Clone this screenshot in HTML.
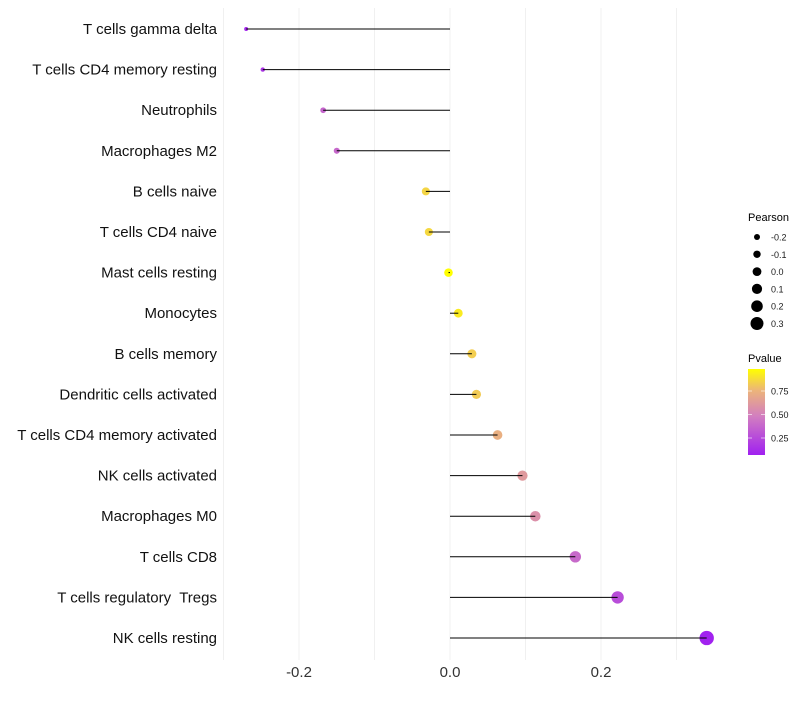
<!DOCTYPE html>
<html><head><meta charset="utf-8"><style>
body{margin:0;background:#fff;font-family:"Liberation Sans",sans-serif}
text{white-space:pre}
</style></head><body>
<svg id="c" width="800" height="700" xmlns="http://www.w3.org/2000/svg" font-family="Liberation Sans, sans-serif">
<defs><linearGradient id="pg" x1="0" y1="1" x2="0" y2="0">
<stop offset="0" stop-color="#a020f0"/><stop offset="0.45" stop-color="#d27ec0"/><stop offset="0.75" stop-color="#ecb47a"/><stop offset="1" stop-color="#ffff00"/>
</linearGradient></defs>
<g id="grid"></g><g id="dots"></g><g id="stems"></g><g id="labels"></g>
<g>
<text x="748" y="221" font-size="11" fill="#000">Pearson</text>
<g id="sizeleg"></g>
</g>
<g>
<text x="748" y="362" font-size="11" fill="#000">Pvalue</text>
<rect x="748" y="369" width="17" height="86" fill="url(#pg)"/>
<g id="cbticks"></g>
</g>
</svg>
<script>
const categories=["T cells gamma delta","T cells CD4 memory resting","Neutrophils","Macrophages M2","B cells naive","T cells CD4 naive","Mast cells resting","Monocytes","B cells memory","Dendritic cells activated","T cells CD4 memory activated","NK cells activated","Macrophages M0","T cells CD8","T cells regulatory  Tregs","NK cells resting"];
const pearson=[-0.27,-0.248,-0.168,-0.15,-0.032,-0.028,-0.002,0.011,0.029,0.035,0.063,0.096,0.113,0.166,0.222,0.34];
const pvalues=[0.1,0.15,0.35,0.36,0.85,0.86,0.98,0.92,0.83,0.82,0.72,0.6,0.55,0.37,0.25,0.08];
const xTicks=[-0.2,0.0,0.2];
const gridVals=[-0.3,-0.2,-0.1,0,0.1,0.2,0.3];
const sizeLegend=[-0.2,-0.1,0.0,0.1,0.2,0.3];
const cbTicks=[0.25,0.5,0.75];
const NS="http://www.w3.org/2000/svg";
const X=v=>450+v*755;
const Y=i=>29+i*40.6;
const R=v=>2+(v+0.27)*8.5;
const CY=p=>461.5-p*94;
function col(p){const st=[[0.07,[160,32,240]],[0.45,[210,126,192]],[0.75,[236,180,122]],[0.98,[255,255,0]]];
if(p<=st[0][0])return"rgb("+st[0][1]+")";for(let k=1;k<st.length;k++){if(p<=st[k][0]){const t=(p-st[k-1][0])/(st[k][0]-st[k-1][0]);const a=st[k-1][1],b=st[k][1];return"rgb("+a.map((c,j)=>Math.round(c+(b[j]-c)*t))+")";}}return"rgb(255,255,0)";}
function mk(t,a,p){const e=document.createElementNS(NS,t);for(const k in a)e.setAttribute(k,a[k]);(p||document.getElementById("c")).appendChild(e);return e;}
const grid=document.getElementById("grid"),dots=document.getElementById("dots"),stems=document.getElementById("stems"),labels=document.getElementById("labels");
gridVals.forEach(v=>{const l=mk("line",{x1:X(v),x2:X(v),y1:8,y2:660,stroke:"#f0f0f0","stroke-width":1},grid);

});
categories.forEach((c,i)=>{
const d=mk("circle",{cx:X(pearson[i]),cy:Y(i),r:R(pearson[i]),fill:col(pvalues[i])},dots);


const s=mk("line",{x1:X(0),x2:X(pearson[i]),y1:Y(i),y2:Y(i),stroke:"#000","stroke-width":1},stems);


const t=mk("text",{x:217,y:Y(i)+5,"text-anchor":"end","font-size":15,fill:"#111"},labels);t.textContent=c;

});
xTicks.forEach(v=>{const t=mk("text",{x:X(v),y:677,"text-anchor":"middle","font-size":15,fill:"#333"},labels);t.textContent=v.toFixed(1);

});
const sl=document.getElementById("sizeleg");
sizeLegend.forEach((v,i)=>{const y=237+i*17.3;const c=mk("circle",{cx:757,cy:y,r:3+(v+0.2)*7,fill:"#000"},sl);


const t=mk("text",{x:771,y:y+3.5,"font-size":9,fill:"#1a1a1a"},sl);t.textContent=v.toFixed(1);

});
const cb=document.getElementById("cbticks");
cbTicks.forEach(p=>{const y=CY(p);mk("line",{x1:748,x2:752,y1:y,y2:y,stroke:"#fff","stroke-opacity":0.6},cb);mk("line",{x1:761,x2:765,y1:y,y2:y,stroke:"#fff","stroke-opacity":0.6},cb);
const t=mk("text",{x:771,y:y+3.5,"font-size":9,fill:"#1a1a1a"},cb);t.textContent=p.toFixed(2);

});
</script>
</body></html>
